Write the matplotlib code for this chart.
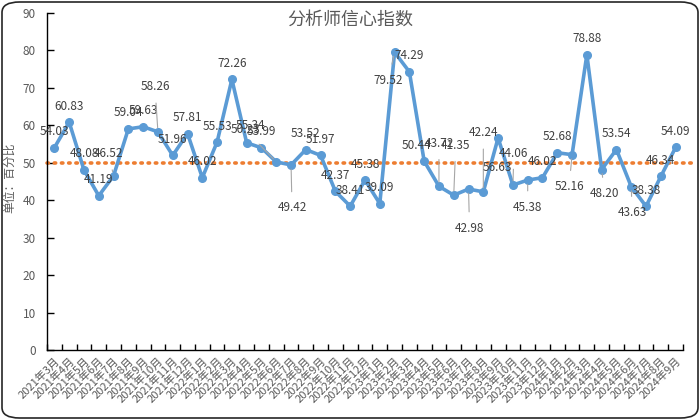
import numpy as np
import matplotlib
matplotlib.use("Agg")
import matplotlib.pyplot as plt
from matplotlib.patches import FancyBboxPatch

plt.rcParams['font.family'] = ['Noto Sans CJK SC', 'DejaVu Sans']

# Data
months = (
    [f"2021年{m}月" for m in range(3, 13)]
    + [f"2022年{m}月" for m in range(1, 13)]
    + [f"2023年{m}月" for m in range(1, 13)]
    + [f"2024年{m}月" for m in range(1, 10)]
)
values = [54.03, 60.83, 48.08, 41.19, 46.52, 59.04, 59.63, 58.26, 51.96, 57.81,
          46.02, 55.53, 72.26, 55.34, 53.99, 50.23, 49.42, 53.52, 51.97, 42.37,
          38.41, 45.38, 39.09, 79.52, 74.29, 50.44, 43.72, 41.35, 42.98, 42.24,
          56.63, 44.06, 45.38, 46.02, 52.68, 52.16, 78.88, 48.20, 53.54, 43.63,
          38.38, 46.34, 54.09]
threshold = 50
yticks = list(range(0, 91, 10))

# label offsets in pixels (dx, dy, leader line) for labels that are not just above the point
label_offsets = {
    4: (-5, 22, True), 7: (-3, 45, True), 13: (4, 17, False), 15: (-31, 32, True),
    16: (1, -43, True), 23: (-6, -28, True), 25: (-8, 16, False), 26: (0, 43, True),
    27: (2, 50, True), 28: (1, -39, True), 29: (0, 59, True), 30: (-1, -30, False),
    31: (1, 32, True), 32: (0, -27, True), 35: (-3, -32, True), 37: (3, -24, True),
    39: (1, -26, True),
}

grey = '#595959'
fig = plt.figure(figsize=(7, 4.2), dpi=100)
ax = fig.add_axes([47 / 700, 1 - 350 / 420, 636 / 700, 337 / 420])

x = np.arange(len(values))
ax.plot([-0.5, len(values) + 0.2], [threshold, threshold], color='#ED7D31', lw=2.6,
        linestyle=(0, (0.4, 1.6)), dash_capstyle='round', clip_on=False, zorder=2)
ax.plot(x, values, color='#5B9BD5', lw=2.6, marker='o', markersize=5.5, zorder=3)

for i, v in enumerate(values):
    dx, dy, leader = label_offsets.get(i, (0, 16, False))
    kw = {}
    if leader:
        kw['arrowprops'] = dict(arrowstyle='-', color='#A6A6A6', lw=0.8, shrinkA=5, shrinkB=3)
    ax.annotate(f"{v:.2f}", (i, v), xytext=(dx, dy), textcoords='offset pixels',
                ha='center', va='center', fontsize=8.5, color='#404040', zorder=4, **kw)

ax.set_xlim(-0.5, len(values) - 0.5)
ax.set_ylim(0, 90)
ax.set_yticks(yticks)
ax.set_xticks(x)
ax.set_xticklabels(months, rotation=45, ha='right', va='top', rotation_mode='anchor',
                   fontsize=8, color=grey)
ax.set_xticks(np.arange(-0.5, len(values), 1), minor=True)
ax.tick_params(axis='x', which='major', length=0, pad=4)
ax.tick_params(axis='x', which='minor', direction='in', length=4, width=1)
ax.tick_params(axis='y', direction='in', length=5, width=1, labelsize=8.5, labelcolor=grey, pad=8)

for s in ['top', 'right']:
    ax.spines[s].set_visible(False)
ax.spines['left'].set_linewidth(1)
ax.spines['bottom'].set_linewidth(1)

fig.text(0.5, 1 - 20 / 420, '分析师信心指数', ha='center', va='center', fontsize=13, color=grey)
fig.text(10 / 700, 1 - 178 / 420, '单位：百分比', rotation=90, ha='center', va='center',
         fontsize=8.5, color=grey)

frame = FancyBboxPatch((2 / 700, 2 / 420), 696 / 700, 416 / 420,
                       boxstyle='round,pad=0,rounding_size=0.025', transform=fig.transFigure,
                       fill=False, edgecolor='#262626', lw=1.2)
fig.patches.append(frame)

fig.savefig('out.png', dpi=100)
